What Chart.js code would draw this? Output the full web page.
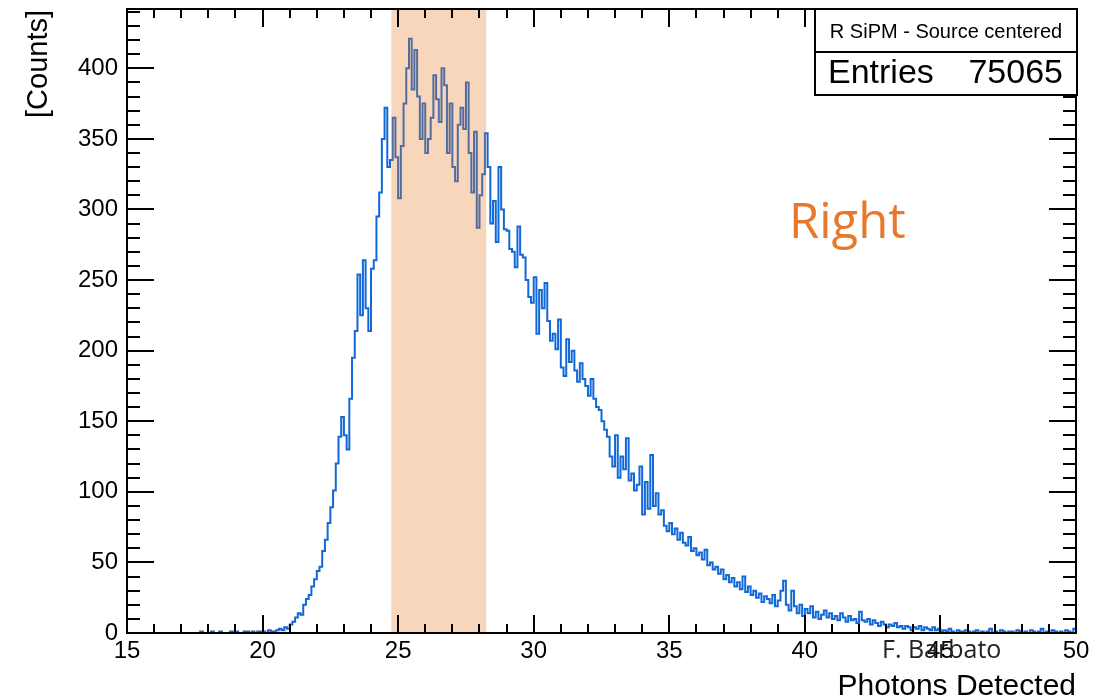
<!DOCTYPE html>
<html>
<head>
<meta charset="utf-8">
<script src="https://cdn.jsdelivr.net/npm/chart.js@4/dist/chart.umd.min.js"></script>
<style>
  html, body { margin: 0; padding: 0; background: #fff; }
  #wrap { width: 1100px; height: 700px; }
</style>
</head>
<body>
<div id="wrap"><canvas id="histo"></canvas></div>
<script>
// histogram bins: low edge of first bin and bin width
const binLow = 17.5;
const binWidth = 0.1;

// counts per bin (17.5 ... 49.9)
const counts = [
  0, 0, 1, 0, 0, 0, 1, 0, 0, 1, 0, 0, 0, 1, 0, 1, 0, 0, 1, 1, 0, 1, 0, 1, 1,
  1, 0, 2, 1, 1, 2, 3, 2, 4, 3,
  6, 8, 11, 14, 13, 20, 24, 27, 33, 38,
  44, 47, 58, 66, 78, 89, 101, 120, 139, 153,
  140, 130, 166, 195, 214, 254, 225, 264, 230, 214,
  258, 264, 295, 312, 350, 372, 330, 335, 365, 337,
  308, 345, 375, 400, 421, 385, 413, 380, 350, 375,
  340, 350, 365, 395, 378, 362, 400, 388, 340, 375,
  330, 320, 360, 372, 357, 390, 340, 312, 355, 287,
  310, 325, 354, 330, 290, 306, 277, 330, 300, 286,
  285, 272, 270, 259, 288, 268, 266, 250, 238, 234,
  252, 212, 243, 230, 248, 221, 207, 212, 201, 222,
  188, 182, 208, 192, 200, 186, 178, 191, 180, 175,
  168, 180, 166, 160, 158, 150, 144, 139, 125, 118,
  140, 110, 125, 116, 138, 108, 113, 101, 105, 118,
  84, 107, 88, 126, 90, 99, 84, 87, 76, 72,
  78, 70, 74, 66, 71, 64, 62, 68, 58, 60,
  55, 57, 52, 59, 48, 50, 45, 47, 42, 45,
  38, 41, 36, 39, 33, 36, 31, 40, 29, 33,
  27, 30, 25, 28, 22, 26, 24, 21, 27, 19,
  23, 30, 37, 20, 16, 30, 19, 14, 20, 12,
  17, 14, 19, 11, 15, 10, 13, 16, 11, 14,
  10, 12, 9, 14, 11, 8, 12, 9, 10, 7,
  15, 9, 8, 10, 6, 9, 7, 5, 8, 6,
  4, 6, 5, 7, 4, 5, 3, 5, 4, 2,
  4, 3, 5, 2, 4, 3, 2, 4, 2, 3,
  1, 2, 1, 3, 1, 0, 2, 1, 1, 2,
  1, 0, 1, 2, 0, 1, 0, 1, 3, 0,
  1, 0, 2, 1, 0, 1, 1, 0, 2, 1,
  0, 1, 0, 2, 1, 0, 1, 3, 0, 1,
  0, 2, 1, 0, 1, 0, 2, 1, 0, 3
];

const xTicks = [15, 20, 25, 30, 35, 40, 45, 50];
const yTicks = [0, 50, 100, 150, 200, 250, 300, 350, 400];
const yMax = 442;
const bandRange = [24.75, 28.25];
const statTitle = 'R SiPM - Source centered';
const entries = 75065;

// step points: one at each bin low edge, plus the closing edge
const points = counts.map((c, i) => ({ x: +(binLow + i * binWidth).toFixed(2), y: c }));
points.push({ x: +(binLow + counts.length * binWidth).toFixed(2), y: counts[counts.length - 1] });

const FONT = '"Liberation Sans", Arial, Helvetica, sans-serif';

// frame, ROOT-style inward ticks, labels, band and stat box
const decor = {
  id: 'decor',
  afterDatasetsDraw(chart) {
    const { ctx, chartArea: a, scales: { x, y } } = chart;
    ctx.save();

    // shaded region
    const b1 = x.getPixelForValue(bandRange[0]);
    const b2 = x.getPixelForValue(bandRange[1]);
    ctx.fillStyle = 'rgba(232, 119, 34, 0.3)';
    ctx.fillRect(b1, a.top, b2 - b1, a.bottom - a.top);

    // frame
    ctx.strokeStyle = '#000';
    ctx.lineWidth = 2;
    ctx.strokeRect(a.left, a.top, a.right - a.left, a.bottom - a.top);

    // ticks
    ctx.beginPath();
    for (let v = xTicks[0]; v <= xTicks[xTicks.length - 1]; v += 1) {
      const px = Math.round(x.getPixelForValue(v));
      const len = xTicks.includes(v) ? 18 : 9;
      ctx.moveTo(px, a.bottom); ctx.lineTo(px, a.bottom - len);
      ctx.moveTo(px, a.top); ctx.lineTo(px, a.top + len);
    }
    for (let v = 0; v <= yMax; v += 10) {
      const py = Math.round(y.getPixelForValue(v));
      const len = v % 50 === 0 ? 27 : 13;
      ctx.moveTo(a.left, py); ctx.lineTo(a.left + len, py);
      ctx.moveTo(a.right, py); ctx.lineTo(a.right - len, py);
    }
    ctx.stroke();

    // tick labels
    ctx.fillStyle = '#000';
    ctx.font = '24px ' + FONT;
    ctx.textAlign = 'center';
    ctx.textBaseline = 'middle';
    xTicks.forEach(v => ctx.fillText(String(v), x.getPixelForValue(v), a.bottom + 18));
    ctx.textAlign = 'right';
    yTicks.forEach(v => ctx.fillText(String(v), a.left - 9, y.getPixelForValue(v)));

    // axis titles
    ctx.font = '30px ' + FONT;
    ctx.textAlign = 'right';
    ctx.textBaseline = 'alphabetic';
    ctx.fillText('Photons Detected', a.right, 695);
    ctx.font = '29px ' + FONT;
    ctx.save();
    ctx.translate(47, a.top + 1);
    ctx.rotate(-Math.PI / 2);
    ctx.fillText('[Counts]', 0, 0);
    ctx.restore();

    // annotations
    ctx.fillStyle = '#e8792c';
    ctx.font = '49px "Open Sans", Lato, sans-serif';
    ctx.textAlign = 'left';
    ctx.fillText('Right', 789, 238);
    ctx.fillStyle = '#222';
    ctx.font = '25px "Open Sans", Lato, sans-serif';
    ctx.fillText('F. Barbato', 882, 658);

    // stat box
    const sx = 815, sy = 9, sw = a.right + 1 - sx, sh = 86;
    ctx.fillStyle = '#fff';
    ctx.fillRect(sx, sy, sw, sh);
    ctx.strokeStyle = '#000';
    ctx.lineWidth = 2;
    ctx.strokeRect(sx, sy, sw, sh);
    ctx.beginPath();
    ctx.moveTo(sx, sy + 43); ctx.lineTo(sx + sw, sy + 43);
    ctx.stroke();
    ctx.fillStyle = '#000';
    ctx.font = '20px ' + FONT;
    ctx.textAlign = 'center';
    ctx.textBaseline = 'middle';
    ctx.fillText(statTitle, sx + sw / 2, sy + 23);
    ctx.font = '34px ' + FONT;
    ctx.textAlign = 'left';
    ctx.fillText('Entries', sx + 13, sy + 65);
    ctx.textAlign = 'right';
    ctx.fillText(String(entries), sx + sw - 14, sy + 65);

    ctx.restore();
  }
};

new Chart(document.getElementById('histo'), {
  type: 'line',
  data: {
    datasets: [{
      label: 'Photons Detected',
      data: points,
      stepped: 'before',
      borderColor: '#1268d6',
      borderWidth: 2,
      pointRadius: 0,
      fill: false
    }]
  },
  options: {
    responsive: true,
    maintainAspectRatio: false,
    animation: false,
    devicePixelRatio: 1,
    layout: { padding: { top: 9, right: 24, left: 0, bottom: 0 } },
    plugins: { legend: { display: false }, tooltip: { enabled: false } },
    scales: {
      x: {
        type: 'linear',
        min: xTicks[0],
        max: xTicks[xTicks.length - 1],
        ticks: { display: false, stepSize: 5 },
        grid: { display: false, drawTicks: false },
        border: { display: false },
        afterFit(s) { s.height = 67; }
      },
      y: {
        min: 0,
        max: yMax,
        ticks: { display: false, stepSize: 50 },
        grid: { display: false, drawTicks: false },
        border: { display: false },
        afterFit(s) { s.width = 127; }
      }
    }
  },
  plugins: [decor]
});
</script>
</body>
</html>
